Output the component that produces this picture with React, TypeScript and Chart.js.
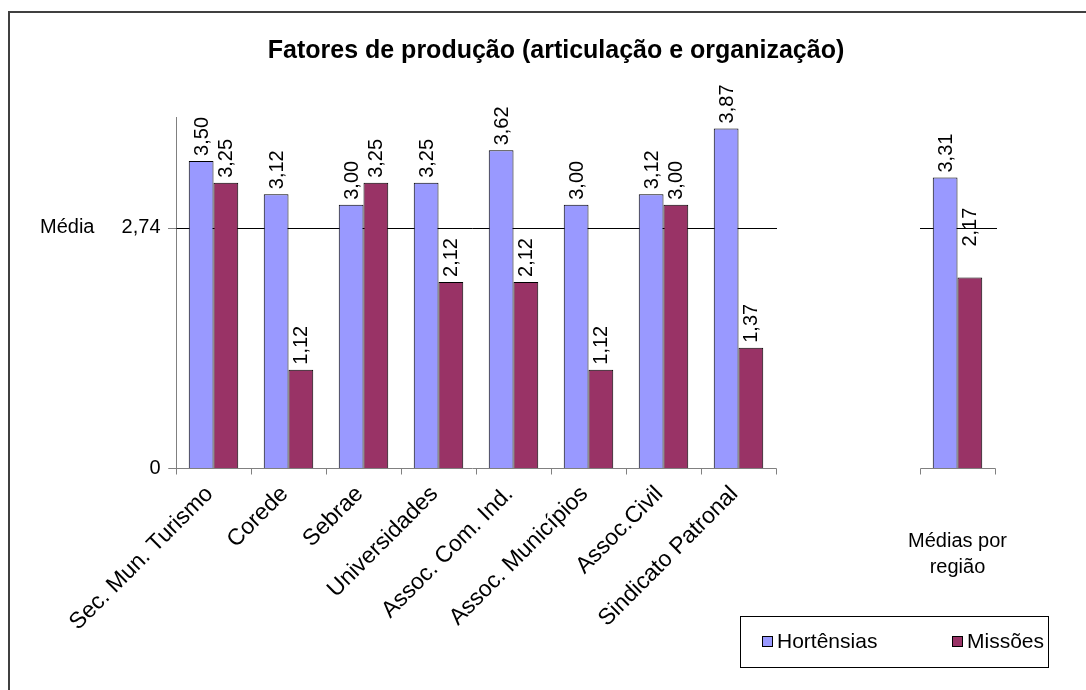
import React, { useEffect, useRef } from "react";
import { Chart, registerables } from "chart.js";

Chart.register(...registerables);

const chartTitle = "Fatores de produção (articulação e organização)";
const categories = [
  "Sec. Mun. Turismo",
  "Corede",
  "Sebrae",
  "Universidades",
  "Assoc. Com. Ind.",
  "Assoc. Municípios",
  "Assoc.Civil",
  "Sindicato Patronal",
];
const summaryLabel = ["Médias por", "região"];
const seriesNames = ["Hortênsias", "Missões"];
const hortensias = [3.5, 3.12, 3.0, 3.25, 3.62, 3.0, 3.12, 3.87];
const missoes = [3.25, 1.12, 3.25, 2.12, 2.12, 1.12, 3.0, 1.37];
const hortensiasMedia = 3.31;
const missoesMedia = 2.17;
const meanValue = 2.74;
const meanLabel = "Média";
const yTickValues = [0, 2.74];
const yMax = 4;

// layout constants (category units)
const SUMMARY_GAP = 1.92; // empty space between main group and summary group
const X_MAX = 11;
const SUMMARY_LABEL_LIFT = [0, 26]; // extra lift of summary value labels, per series

const colors = ["#9999FF", "#993366"];
const FONT = "'Liberation Sans', Arial, sans-serif";

const fmt = (v: number) => v.toFixed(2).replace(".", ",");

export default function App() {
  const ref = useRef<HTMLCanvasElement | null>(null);

  useEffect(() => {
    const canvas = ref.current;
    if (!canvas) return;
    const nMain = categories.length;
    const summaryPos = nMain + SUMMARY_GAP + 0.5;
    const toPoints = (vals: number[], summary: number) => [
      ...vals.map((v, i) => ({ x: i + 0.5, y: v })),
      { x: summaryPos, y: summary },
    ];
    const dataH = toPoints(hortensias, hortensiasMedia);
    const dataM = toPoints(missoes, missoesMedia);

    const decor = {
      id: "decor",
      beforeDatasetsDraw(chart: any) {
        const { ctx, scales } = chart;
        const x = scales.x;
        const y = scales.y;
        const y0 = Math.round(y.getPixelForValue(0)) + 0.5;
        const ym = Math.round(y.getPixelForValue(meanValue)) + 0.5;
        const left = Math.round(x.getPixelForValue(0)) + 0.5;
        ctx.save();
        ctx.strokeStyle = "#808080";
        ctx.lineWidth = 1;
        ctx.beginPath();
        ctx.moveTo(left, chart.chartArea.top);
        ctx.lineTo(left, y0);
        ctx.stroke();
        ctx.strokeStyle = "#000";
        const mainRight = x.getPixelForValue(nMain);
        ctx.beginPath();
        ctx.moveTo(left - 8, ym);
        ctx.lineTo(mainRight + 1, ym);
        ctx.stroke();
        ctx.beginPath();
        ctx.moveTo(x.getPixelForValue(summaryPos - 0.5), ym);
        ctx.lineTo(x.getPixelForValue(summaryPos + 0.5) + 2, ym);
        ctx.stroke();
        ctx.restore();
      },
      afterDatasetsDraw(chart: any) {
        const { ctx, scales } = chart;
        const x = scales.x;
        const y = scales.y;
        const y0 = Math.round(y.getPixelForValue(0)) + 0.5;
        const left = Math.round(x.getPixelForValue(0)) + 0.5;
        ctx.save();
        ctx.strokeStyle = "#808080";
        ctx.lineWidth = 1;
        const mainRight = Math.round(x.getPixelForValue(nMain)) + 0.5;
        ctx.beginPath();
        ctx.moveTo(left - 8, y0);
        ctx.lineTo(mainRight, y0);
        for (let i = 0; i <= nMain; i++) {
          const tx = Math.round(x.getPixelForValue(i)) + 0.5;
          ctx.moveTo(tx, y0);
          ctx.lineTo(tx, y0 + 6);
        }
        ctx.stroke();
        const sl = Math.round(x.getPixelForValue(summaryPos - 0.5)) + 0.5;
        const sr = Math.round(x.getPixelForValue(summaryPos + 0.5)) + 0.5;
        ctx.beginPath();
        ctx.moveTo(sl, y0);
        ctx.lineTo(sr, y0);
        ctx.moveTo(sl, y0);
        ctx.lineTo(sl, y0 + 6);
        ctx.moveTo(sr, y0);
        ctx.lineTo(sr, y0 + 6);
        ctx.stroke();
        ctx.beginPath();
        yTickValues.forEach((v) => {
          const py = Math.round(y.getPixelForValue(v)) + 0.5;
          ctx.moveTo(left - 8, py);
          ctx.lineTo(left, py);
        });
        ctx.stroke();

        ctx.fillStyle = "#000";
        ctx.font = `20px ${FONT}`;
        ctx.textAlign = "right";
        ctx.textBaseline = "middle";
        yTickValues.forEach((v) => {
          const py = y.getPixelForValue(v);
          ctx.fillText(v === 0 ? "0" : fmt(v), left - 16, py);
        });
        ctx.textAlign = "left";
        ctx.fillText(meanLabel, 40, y.getPixelForValue(meanValue));

        // value labels
        chart.data.datasets.forEach((ds: any, di: number) => {
          const meta = chart.getDatasetMeta(di);
          meta.data.forEach((bar: any, i: number) => {
            const p = ds.data[i];
            if (!p || p.y == null) return;
            const lift = i === ds.data.length - 1 ? SUMMARY_LABEL_LIFT[di] : 0;
            ctx.save();
            ctx.translate(bar.x + 1, bar.y - 5 - lift);
            ctx.rotate(-Math.PI / 2);
            ctx.textAlign = "left";
            ctx.textBaseline = "middle";
            ctx.fillText(fmt(p.y), 0, 0);
            ctx.restore();
          });
        });

        // category labels
        ctx.font = `23px ${FONT}`;
        for (let i = 0; i < nMain; i++) {
          const cx = x.getPixelForValue(i + 0.5);
          ctx.save();
          ctx.translate(cx - 4, y0 + 22);
          ctx.rotate(-Math.PI / 4);
          ctx.textAlign = "right";
          ctx.textBaseline = "middle";
          ctx.fillText(categories[i], 0, 0);
          ctx.restore();
        }
        ctx.font = `20px ${FONT}`;
        ctx.textAlign = "center";
        ctx.textBaseline = "middle";
        const lc = x.getPixelForValue(summaryPos);
        summaryLabel.forEach((s, k) => {
          ctx.fillText(s, lc, 541 + k * 26);
        });

        // title
        ctx.font = `bold 25px ${FONT}`;
        ctx.textAlign = "center";
        ctx.fillText(chartTitle, 556, 51);

        // legend
        ctx.strokeStyle = "#000";
        ctx.lineWidth = 1;
        ctx.fillStyle = "#fff";
        ctx.fillRect(740.5, 616.5, 308, 51);
        ctx.strokeRect(740.5, 616.5, 308, 51);
        ctx.font = `21px ${FONT}`;
        ctx.textAlign = "left";
        const items = [
          { x: 762, label: seriesNames[0], color: colors[0] },
          { x: 952, label: seriesNames[1], color: colors[1] },
        ];
        items.forEach((it) => {
          ctx.fillStyle = it.color;
          ctx.fillRect(it.x + 0.5, 636.5, 10, 10);
          ctx.strokeRect(it.x + 0.5, 636.5, 10, 10);
          ctx.fillStyle = "#000";
          ctx.fillText(it.label, it.x + 15, 642);
        });

        // outer frame
        ctx.strokeStyle = "#404040";
        ctx.lineWidth = 2;
        ctx.beginPath();
        ctx.moveTo(9, 690);
        ctx.lineTo(9, 12);
        ctx.lineTo(1086, 12);
        ctx.stroke();
        ctx.restore();
      },
    };

    const chart = new Chart(canvas, {
      type: "bar",
      data: {
        datasets: [
          {
            label: seriesNames[0],
            data: dataH,
            backgroundColor: colors[0],
            borderColor: "#000",
            borderWidth: 1,
            categoryPercentage: 0.66,
            barPercentage: 1,
          },
          {
            label: seriesNames[1],
            data: dataM,
            backgroundColor: colors[1],
            borderColor: "#000",
            borderWidth: 1,
            categoryPercentage: 0.66,
            barPercentage: 1,
          },
        ],
      },
      options: {
        animation: false,
        responsive: false,
        devicePixelRatio: 1,
        layout: { padding: { left: 176, right: 85, top: 117, bottom: 222 } },
        plugins: {
          legend: { display: false },
          title: { display: false },
          tooltip: { enabled: false },
        },
        scales: {
          x: {
            type: "linear",
            display: false,
            offset: false,
            min: 0,
            max: X_MAX,
            ticks: { stepSize: 1 },
          },
          y: { display: false, min: 0, max: yMax },
        },
      },
      plugins: [decor],
    });
    return () => chart.destroy();
  }, []);

  return (
    <div
      style={{
        position: "fixed",
        left: 0,
        top: 0,
        width: 1086,
        height: 690,
        background: "#fff",
      }}
    >
      <canvas ref={ref} width={1086} height={690} style={{ display: "block" }} />
    </div>
  );
}
